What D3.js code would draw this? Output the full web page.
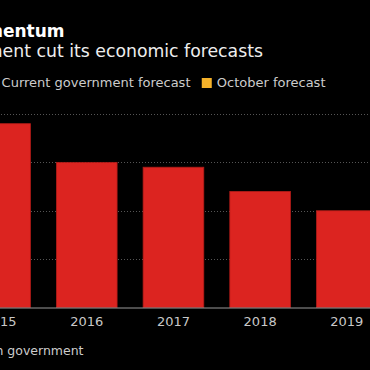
<!DOCTYPE html>
<html>
<head>
<meta charset="utf-8">
<script src="https://cdn.jsdelivr.net/npm/d3@7"></script>
<style>
  body { margin: 0; background: #000; overflow: hidden; }
  text { font-family: "DejaVu Sans", sans-serif; }
</style>
</head>
<body>
<svg id="canvas"></svg>
<script>
const years = ["2015", "2016", "2017", "2018", "2019"];
const currentForecast = [3.8, 3.0, 2.9, 2.4, 2.0];
const yTicks = [1, 2, 3, 4];
const legendLabels = ["Current government forecast", "October forecast"];

const width = 370;
const height = 370;

const canvas = d3.select("#canvas").attr("width", width).attr("height", height);

const xScale = d3
  .scaleBand()
  .domain(years)
  .range([-43.3, 390.2])
  .paddingInner(0.3)
  .paddingOuter(0.15);

const yScale = d3.scaleLinear().domain([0, 4]).range([307.5, 114]);

// gridlines
canvas
  .selectAll(".grid")
  .data(yTicks)
  .enter()
  .append("line")
  .attr("class", "grid")
  .attr("x1", -50)
  .attr("x2", width)
  .attr("y1", (d) => Math.round(yScale(d)) + 0.5)
  .attr("y2", (d) => Math.round(yScale(d)) + 0.5)
  .attr("stroke", "#555")
  .attr("stroke-width", 1)
  .attr("stroke-dasharray", "1,2");

// bars
canvas
  .selectAll(".bar")
  .data(years)
  .enter()
  .append("rect")
  .attr("class", "bar")
  .attr("x", (d) => xScale(d))
  .attr("width", xScale.bandwidth())
  .attr("y", (d, i) => yScale(currentForecast[i]))
  .attr("height", (d, i) => yScale(0) - yScale(currentForecast[i]))
  .attr("fill", "#dc2420")
  .attr("stroke", "#b01c18")
  .attr("stroke-width", 0.8);

// x axis
const xAxis = d3.axisBottom(xScale).tickSize(0).tickPadding(9);
const gx = canvas
  .append("g")
  .attr("id", "x-axis")
  .attr("transform", `translate(0, ${yScale(0)})`)
  .call(xAxis);
gx.select(".domain").attr("stroke", "#999").attr("d", `M-50,0.5H${width}`);
gx.selectAll("text")
  .attr("fill", "#c8c8c8")
  .style("font-size", "13px")
  .style("font-family", "DejaVu Sans, sans-serif");

// titles
canvas
  .append("text")
  .attr("x", 64.5)
  .attr("y", 37)
  .attr("text-anchor", "end")
  .attr("fill", "#fff")
  .style("font-size", "17px")
  .style("font-weight", "bold")
  .text("Losing Momentum");

canvas
  .append("text")
  .attr("x", 263)
  .attr("y", 57)
  .attr("text-anchor", "end")
  .attr("fill", "#eee")
  .style("font-size", "17.3px")
  .text("Spain's government cut its economic forecasts");

// legend
const legendColors = ["#dc2420", "#f5b22a"];
const legendEnds = [190.5, 325.5];
legendLabels.forEach((label, i) => {
  const t = canvas
    .append("text")
    .attr("x", legendEnds[i])
    .attr("y", 87)
    .attr("text-anchor", "end")
    .attr("fill", "#ccc")
    .style("font-size", "13px")
    .text(label);
  const w = t.node().getComputedTextLength();
  canvas
    .append("rect")
    .attr("x", legendEnds[i] - w - 15)
    .attr("y", 78)
    .attr("width", 10)
    .attr("height", 10)
    .attr("fill", legendColors[i]);
});

// source
canvas
  .append("text")
  .attr("x", 83.5)
  .attr("y", 355)
  .attr("text-anchor", "end")
  .attr("fill", "#ccc")
  .style("font-size", "12.5px")
  .text("Source: Spanish government");
</script>
</body>
</html>
